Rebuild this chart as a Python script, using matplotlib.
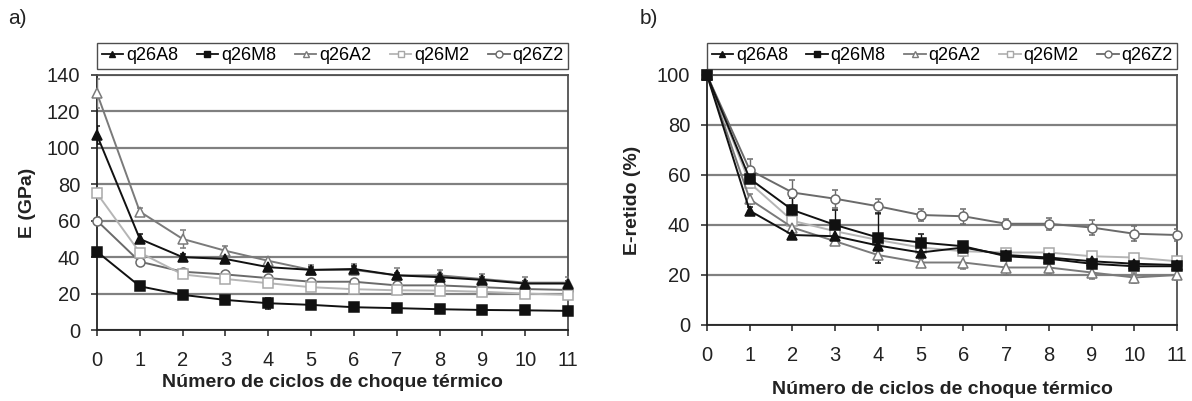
import matplotlib
matplotlib.use("Agg")
import matplotlib.pyplot as plt
from matplotlib.lines import Line2D

plt.rcParams['font.family'] = ['Liberation Sans', 'DejaVu Sans']

cycles = list(range(12))
series_names = ["q26A8", "q26M8", "q26A2", "q26M2", "q26Z2"]

# Young's modulus E (GPa) after each thermal shock cycle
e_A8 = [107, 50, 40, 39, 34.5, 33, 33.5, 30, 29, 27.5, 25.5, 25.5]
e_M8 = [43, 24, 19.3, 16.5, 14.7, 13.8, 12.5, 12, 11.4, 11, 10.8, 10.5]
e_A2 = [130, 65, 50, 43.5, 38, 33, 33, 30, 30, 28, 26, 26]
e_M2 = [75, 42.5, 30.5, 28, 25.7, 23.5, 22.4, 21.8, 21.6, 21, 20, 19.3]
e_Z2 = [60, 37.5, 32, 30.5, 28.5, 26.5, 26.5, 24.5, 24.5, 23.5, 22.5, 22]

e_A8_err = [5, 2.5, 1.5, 2, 1.5, 1.5, 1.5, 1.5, 1.5, 1.5, 1.5, 1.5]
e_M8_err = [2, 1.5, 1.5, 1.5, 3, 1, 1, 1, 1, 1, 1, 1]
e_A2_err = [8, 2, 5, 2.5, 2, 2.5, 3, 4, 3, 3, 3, 3]
e_M2_err = [3, 1.5, 1, 1, 1, 1, 1, 1, 1, 1, 1, 1]
e_Z2_err = [2, 1.5, 1, 1, 1, 1, 1, 1, 1, 1, 1, 1]

# Retained modulus (% of initial value)
r_A8 = [100, 45.7, 36, 35.5, 31.8, 29, 31, 28, 27, 25.5, 24.5, 24]
r_M8 = [100, 58.5, 46, 40, 35, 33, 31.5, 27.5, 26.5, 24.5, 23.5, 23.5]
r_A2 = [100, 50.3, 39, 33.5, 28, 25, 25, 23, 23, 21, 19, 20]
r_M2 = [100, 56.8, 41.7, 37.5, 34, 31, 29.5, 29, 29, 27.5, 27, 25.5]
r_Z2 = [100, 62, 53, 50.5, 47.5, 44, 43.5, 40.5, 40.5, 39, 36.5, 36]

r_A8_err = [0, 1.5, 1.5, 1.5, 1.5, 1.5, 1.5, 1.5, 1.5, 1.5, 1.5, 1.5]
r_M8_err = [0, 2, 5, 6, 10, 3.5, 1.5, 1.5, 1.5, 1.5, 1.5, 1.5]
r_A2_err = [0, 2, 1.5, 1.5, 2, 1.5, 2.5, 3, 2.5, 2.5, 2, 2]
r_M2_err = [0, 2, 1.5, 1.5, 1.5, 1.5, 1.5, 1.5, 1.5, 1.5, 1.5, 1.5]
r_Z2_err = [0, 4.5, 5, 3.5, 3, 2.5, 3, 2, 2.5, 3, 3, 2.5]

x_ticks = list(range(12))
e_ticks = list(range(0, 141, 20))
r_ticks = list(range(0, 101, 20))

styles = {
    "q26A8": dict(color="#111111", marker="^", mfc="#111111", mec="#111111"),
    "q26M8": dict(color="#111111", marker="s", mfc="#111111", mec="#111111"),
    "q26A2": dict(color="#7a7a7a", marker="^", mfc="white", mec="#7a7a7a"),
    "q26M2": dict(color="#b5b5b5", marker="s", mfc="white", mec="#a8a8a8"),
    "q26Z2": dict(color="#6a6a6a", marker="o", mfc="white", mec="#6a6a6a"),
}

fig = plt.figure(figsize=(11.92, 4.01), dpi=100)
W, H = 1192, 401


def px_axes(x0, x1, ytop, ybot):
    return fig.add_axes([x0 / W, 1 - ybot / H, (x1 - x0) / W, (ybot - ytop) / H])


ax1 = px_axes(97, 568, 75, 330)
ax2 = px_axes(707, 1177, 75, 325)


def draw(ax, data, errs, ylim, yticks, ylabel):
    order = ["q26Z2", "q26M2", "q26A2", "q26M8", "q26A8"]
    for name in order:
        st = styles[name]
        ln = ax.errorbar(cycles, data[name], yerr=errs[name], color=st["color"],
                         lw=1.4, marker=st["marker"], ms=6.5, mfc=st["mfc"],
                         mec=st["mec"], mew=1.1, capsize=2.5, elinewidth=1.0,
                         ecolor=st["color"], zorder=3)
        ln.lines[0].set_clip_on(False)
    ax.set_xlim(0, 11)
    ax.set_ylim(*ylim)
    ax.set_xticks(x_ticks)
    ax.set_yticks(yticks)
    ax.yaxis.grid(True, color="#808080", lw=1.6)
    ax.set_axisbelow(True)
    for sp in ax.spines.values():
        sp.set_color("#505050")
        sp.set_linewidth(1.3)
    ax.spines["left"].set_color("#222222")
    ax.spines["bottom"].set_color("#222222")
    ax.tick_params(axis="both", direction="out", length=4, width=1.2,
                   color="#333333", labelsize=14.5, labelcolor="#222222")
    ax.tick_params(axis="x", pad=11)
    ax.tick_params(axis="y", pad=8)
    ax.set_ylabel(ylabel, fontsize=14, fontweight="bold", color="#222222")
    handles = []
    for name in series_names:
        st = styles[name]
        handles.append(Line2D([], [], color=st["color"], lw=1.3,
                              marker=st["marker"], ms=5, mfc=st["mfc"],
                              mec=st["mec"], mew=1.0))
    leg = ax.legend(handles, series_names,
                    loc="lower left", bbox_to_anchor=(0, 1.025, 1.0, 0.09),
                    mode="expand", ncol=5, fontsize=13, frameon=True,
                    fancybox=False, borderpad=0.25, handlelength=1.2,
                    handletextpad=0.15, columnspacing=0.6, borderaxespad=0)
    leg.get_frame().set_edgecolor("#222222")
    leg.get_frame().set_linewidth(1.0)
    return ax


e_data = {"q26A8": e_A8, "q26M8": e_M8, "q26A2": e_A2, "q26M2": e_M2, "q26Z2": e_Z2}
e_errs = {"q26A8": e_A8_err, "q26M8": e_M8_err, "q26A2": e_A2_err,
          "q26M2": e_M2_err, "q26Z2": e_Z2_err}
r_data = {"q26A8": r_A8, "q26M8": r_M8, "q26A2": r_A2, "q26M2": r_M2, "q26Z2": r_Z2}
r_errs = {"q26A8": r_A8_err, "q26M8": r_M8_err, "q26A2": r_A2_err,
          "q26M2": r_M2_err, "q26Z2": r_Z2_err}

draw(ax1, e_data, e_errs, (0, 140), e_ticks, "E (GPa)")
draw(ax2, r_data, r_errs, (0, 100), r_ticks, "E-retido (%)")

ax1.set_xlabel("Número de ciclos de choque térmico", fontsize=14,
               fontweight="bold", color="#222222", labelpad=3)
ax2.set_xlabel("Número de ciclos de choque térmico", fontsize=14,
               fontweight="bold", color="#222222", labelpad=12)
ax1.yaxis.set_label_coords(-0.13, 0.5)
ax2.yaxis.set_label_coords(-0.14, 0.5)

fig.text(8 / W, 1 - 18 / H, "a)", fontsize=15, va="center", ha="left", color="#222222")
fig.text(640 / W, 1 - 18 / H, "b)", fontsize=15, va="center", ha="left", color="#222222")

fig.savefig("out.png", dpi=100, facecolor="white")
